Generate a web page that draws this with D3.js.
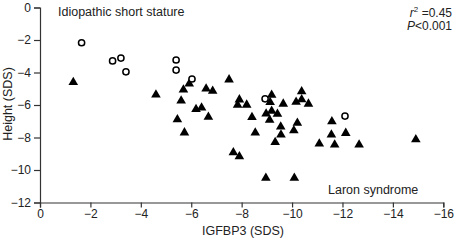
<!DOCTYPE html>
<html><head><meta charset="utf-8">
<script src="https://cdn.jsdelivr.net/npm/d3@7"></script>
<style>
body{margin:0;background:#fff;}
svg{font-family:"Liberation Sans",Arial,Helvetica,sans-serif;}
</style></head>
<body><svg id="c" width="455" height="240"></svg>
<script>
// Idiopathic short stature (open circles): [IGFBP3 SDS, Height SDS]
const issX = [-1.65,-2.88,-3.21,-3.41,-5.40,-5.40,-6.03,-8.93,-12.10];
const issY = [-2.17,-3.29,-3.11,-3.96,-3.23,-3.85,-4.40,-5.62,-6.68];
// Laron syndrome (filled triangles)
const laronX = [-1.32,-4.60,-5.60,-5.69,-5.92,-6.59,-6.85,-7.50,-6.19,-6.41,-6.68,-5.45,-5.73,
  -7.91,-7.84,-8.20,-8.41,-8.54,-7.67,-7.91,-8.96,-10.09,-9.19,-9.13,-9.65,-10.38,-10.16,-10.38,
  -10.65,-8.97,-9.19,-9.42,-9.11,-9.55,-9.56,-9.33,-10.21,-10.07,-11.58,-11.56,-12.13,-11.08,
  -11.69,-12.66,-14.91];
const laronY = [-4.57,-5.34,-5.71,-5.03,-4.66,-4.97,-5.11,-4.41,-6.23,-6.14,-6.71,-6.86,-7.67,
  -5.64,-5.97,-5.96,-6.72,-7.68,-8.89,-9.14,-10.46,-10.46,-5.35,-5.80,-5.90,-5.14,-5.78,-5.63,
  -5.90,-6.51,-6.34,-6.52,-6.89,-7.31,-7.80,-8.26,-7.08,-7.54,-6.98,-7.80,-7.70,-8.35,
  -8.42,-8.42,-8.09];
const xTicks = [0,-2,-4,-6,-8,-10,-12,-14,-16];
const yTicks = [0,-2,-4,-6,-8,-10,-12];

const svg = d3.select("#c");
const x = d3.scaleLinear().domain([0,-16]).range([40,443.3]);
const y = d3.scaleLinear().domain([0,-12]).range([7.5,202.5]);
const fmt = d => d===0 ? "0" : "\u2212" + Math.abs(d);

const gx = svg.append("g").attr("transform","translate(0,202.5)")
  .call(d3.axisBottom(x).tickValues(xTicks).tickFormat(fmt).tickSizeOuter(0).tickSize(5).tickPadding(2));
const gy = svg.append("g").attr("transform","translate(40,0)")
  .call(d3.axisLeft(y).tickValues(yTicks).tickFormat(fmt).tickSizeOuter(0).tickSize(6).tickPadding(3));
[gx,gy].forEach(g=>{
  g.selectAll("path,line").attr("stroke","#333").attr("stroke-width",1.2);
  g.selectAll("text").attr("font-size",12).attr("fill","#222").attr("font-family","Liberation Sans,Arial,sans-serif");
});

// triangles
const tri = d3.symbol().type(d3.symbolTriangle).size(40);
svg.append("g").selectAll("path").data(laronX.map((v,i)=>[v,laronY[i]])).join("path")
  .attr("d",tri).attr("fill","#000")
  .attr("transform",d=>`translate(${x(d[0])},${y(d[1])+0.5})`);
// circles
svg.append("g").selectAll("circle").data(issX.map((v,i)=>[v,issY[i]])).join("circle")
  .attr("cx",d=>x(d[0])).attr("cy",d=>y(d[1])).attr("r",3.1)
  .attr("fill","#fff").attr("stroke","#000").attr("stroke-width",1.5);

// labels
svg.append("text").attr("x",58).attr("y",16).attr("font-size",12.5).attr("fill","#222").text("Idiopathic short stature");
svg.append("text").attr("x",328).attr("y",194).attr("font-size",12.5).attr("fill","#222").text("Laron syndrome");
const r2 = svg.append("text").attr("x",452).attr("y",17).attr("text-anchor","end").attr("font-size",12).attr("fill","#222");
r2.append("tspan").attr("font-style","italic").text("r");
r2.append("tspan").attr("font-size",8).attr("dy",-5).text("2");
r2.append("tspan").attr("dy",5).text(" =0.45");
const p = svg.append("text").attr("x",452).attr("y",30).attr("text-anchor","end").attr("font-size",12).attr("fill","#222");
p.append("tspan").attr("font-style","italic").text("P");
p.append("tspan").text("<0.001");
svg.append("text").attr("x",243).attr("y",235).attr("text-anchor","middle").attr("font-size",12.5).attr("fill","#222").text("IGFBP3 (SDS)");
svg.append("text").attr("transform","translate(12,104) rotate(-90)").attr("text-anchor","middle").attr("font-size",12.5).attr("fill","#222").text("Height (SDS)");
</script></body></html>
